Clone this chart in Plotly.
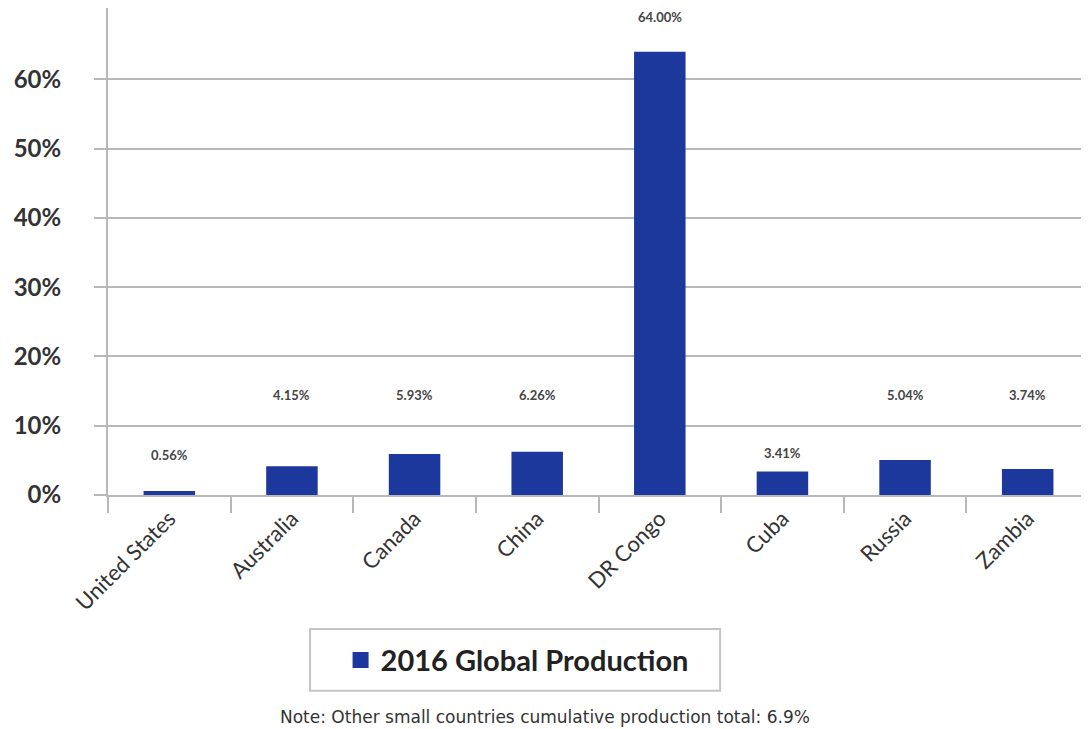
import plotly.graph_objects as go

countries = ["United States", "Australia", "Canada", "China", "DR Congo", "Cuba", "Russia", "Zambia"]
production = [0.56, 4.15, 5.93, 6.26, 64.00, 3.41, 5.04, 3.74]
value_labels = ["0.56%", "4.15%", "5.93%", "6.26%", "64.00%", "3.41%", "5.04%", "3.74%"]
series_name = "2016 Global Production"
note_text = "Note: Other small countries cumulative production total: 6.9%"
y_ticks = [0, 10, 20, 30, 40, 50, 60]
y_tick_text = ["0%", "10%", "20%", "30%", "40%", "50%", "60%"]

# styling: heights at which the value labels sit (as in the source chart)
label_heights = [5.8, 14.4, 14.4, 14.4, 69.0, 6.1, 14.4, 14.4]

FONT = "Lato, 'Open Sans', sans-serif"
BAR = "#1d389c"
GRID = "#b8b8b8"

fig = go.Figure()
fig.add_trace(go.Bar(
    x=countries, y=production, name=series_name,
    marker=dict(color=BAR, line=dict(width=0)),
    width=0.42, showlegend=False,
))
# legend entry with a larger square swatch
fig.add_trace(go.Scatter(
    x=[None], y=[None], mode="markers", name=series_name,
    marker=dict(symbol="square", size=20, color=BAR), showlegend=True,
))

for c, h, t in zip(countries, label_heights, value_labels):
    fig.add_annotation(x=c, y=h, text=t, showarrow=False, xref="x", yref="y",
                       font=dict(family=FONT, size=13, color="#444", weight="bold"),
                       yanchor="middle")

fig.add_annotation(x=0.445, y=-0.456, xref="paper", yref="paper", text=note_text,
                   showarrow=False, font=dict(family="DejaVu Sans", size=17, color="#333"),
                   xanchor="center", yanchor="middle")

# legend frame
fig.add_shape(type="rect", xref="paper", yref="paper",
              x0=0.206, x1=0.624, y0=-0.275, y1=-0.402,
              line=dict(color="#c4c4c4", width=2), fillcolor="rgba(0,0,0,0)")

fig.update_layout(
    width=1081, height=721,
    margin=dict(l=100, r=0, t=0, b=234, autoexpand=False),
    paper_bgcolor="white", plot_bgcolor="white",
    legend=dict(x=0.417, y=-0.339, xanchor="center", yanchor="middle",
                orientation="h", borderwidth=0,
                bgcolor="rgba(0,0,0,0)",
                font=dict(family=FONT, size=29, color="#222", weight="bold"),
                itemsizing="trace", itemwidth=30),
    xaxis=dict(tickangle=-45, tickfont=dict(family=FONT, size=22, color="#333"),
               showgrid=False, showline=True, linecolor=GRID, linewidth=2,
               ticks="outside", tickson="boundaries", ticklen=16, tickcolor=GRID,
               tickwidth=2, automargin=False),
    yaxis=dict(range=[0, 70.3], tickvals=y_ticks, ticktext=y_tick_text,
               tickfont=dict(family=FONT, size=24, color="#333", weight="bold"),
               showgrid=True, gridcolor=GRID, gridwidth=2,
               showline=True, linecolor=GRID, linewidth=2,
               ticks="outside", ticklen=12, tickcolor=GRID, tickwidth=2,
               ticklabelstandoff=28, zeroline=False, automargin=False),
)

fig.write_html("out.html")
